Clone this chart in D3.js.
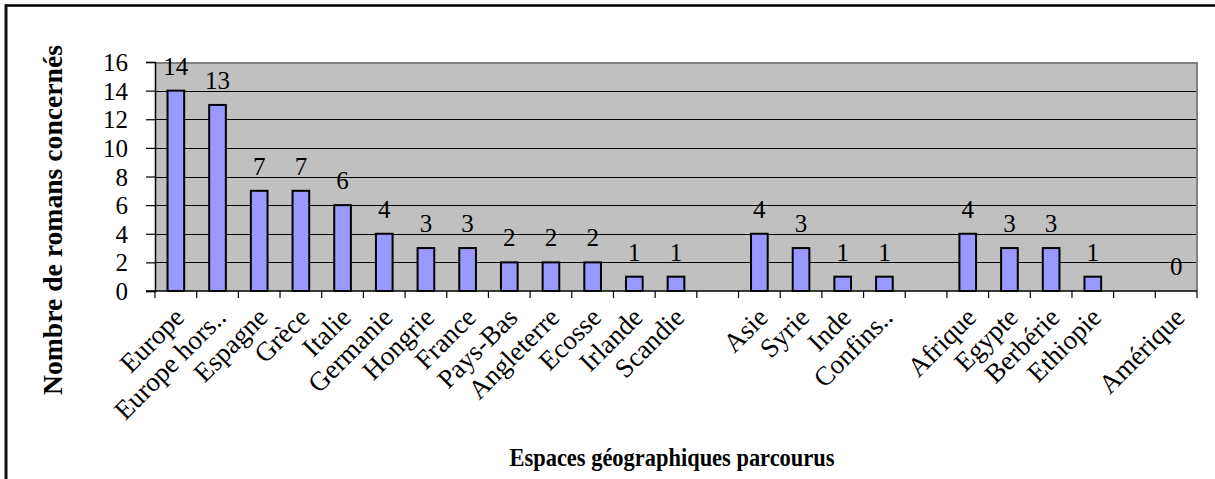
<!DOCTYPE html>
<html>
<head>
<meta charset="utf-8">
<script src="https://cdn.jsdelivr.net/npm/d3@7"></script>
<style>
  html, body { margin: 0; padding: 0; background: #fff; }
  svg { display: block; }
  text { font-family: "Liberation Serif", "Times New Roman", serif; }
</style>
</head>
<body>
<svg id="chart" width="1215" height="479"></svg>
<script>
// Geographic areas (empty strings are spacer slots between continents)
const categories = ["Europe", "Europe hors..", "Espagne", "Grèce", "Italie", "Germanie", "Hongrie",
  "France", "Pays-Bas", "Angleterre", "Ecosse", "Irlande", "Scandie", "",
  "Asie", "Syrie", "Inde", "Confins..", "",
  "Afrique", "Egypte", "Berbérie", "Ethiopie", "",
  "Amérique"];
// Number of novels per area (null = spacer, no bar)
const values = [14, 13, 7, 7, 6, 4, 3, 3, 2, 2, 2, 1, 1, null,
  4, 3, 1, 1, null,
  4, 3, 3, 1, null,
  0];
const yTicks = [0, 2, 4, 6, 8, 10, 12, 14, 16];
const yTitle = "Nombre de romans concernés";
const xTitle = "Espaces géographiques parcourus";

const svg = d3.select("#chart");
const plot = { left: 155, right: 1197, top: 62, bottom: 291 };

const x = d3.scaleBand()
  .domain(d3.range(categories.length))
  .range([plot.left, plot.right])
  .paddingInner(0).paddingOuter(0);
const y = d3.scaleLinear().domain([0, 16]).range([plot.bottom, plot.top]);

// Outer frame
svg.append("line").attr("x1", 5).attr("x2", 1215).attr("y1", 5.5).attr("y2", 5.5)
  .attr("stroke", "#000").attr("stroke-width", 2.5);
svg.append("line").attr("x1", 6).attr("x2", 6).attr("y1", 4.5).attr("y2", 479)
  .attr("stroke", "#111").attr("stroke-width", 3);

// Plot background
svg.append("rect")
  .attr("x", plot.left).attr("y", plot.top)
  .attr("width", plot.right - plot.left).attr("height", plot.bottom - plot.top)
  .attr("fill", "#c0c0c0");

// Horizontal gridlines
svg.append("g").selectAll("line")
  .data(yTicks.filter(t => t > 0 && t < 16))
  .join("line")
  .attr("x1", plot.left).attr("x2", plot.right)
  .attr("y1", d => Math.round(y(d)) + 0.5).attr("y2", d => Math.round(y(d)) + 0.5)
  .attr("stroke", "#000").attr("stroke-width", 1);

// Grey top and right border of the plot area
svg.append("path")
  .attr("d", `M${plot.left},${plot.top + 1}H${plot.right}V${plot.bottom}`)
  .attr("fill", "none").attr("stroke", "#808080").attr("stroke-width", 2);

// Bars
const barW = x.bandwidth() * 0.4;
svg.append("g").selectAll("rect")
  .data(values.map((v, i) => ({ v, i })).filter(d => d.v !== null && d.v > 0))
  .join("rect")
  .attr("x", d => x(d.i) + x.bandwidth() / 2 - barW / 2)
  .attr("y", d => y(d.v))
  .attr("width", barW)
  .attr("height", d => y(0) - y(d.v))
  .attr("fill", "#9999ff")
  .attr("stroke", "#000").attr("stroke-width", 2);

// Value labels
svg.append("g").selectAll("text")
  .data(values.map((v, i) => ({ v, i })).filter(d => d.v !== null))
  .join("text")
  .attr("x", d => x(d.i) + x.bandwidth() / 2)
  .attr("y", d => y(d.v) - 16)
  .attr("text-anchor", "middle")
  .attr("font-size", 25)
  .attr("fill", "#000")
  .text(d => d.v);

// Y axis
const yAxis = d3.axisLeft(y).tickValues(yTicks).tickSize(9).tickPadding(18);
const gy = svg.append("g").attr("transform", `translate(${plot.left},0)`).call(yAxis);
gy.select(".domain").attr("stroke", "#000").attr("stroke-width", 1.5);
gy.selectAll(".tick line").attr("stroke", "#000").attr("stroke-width", 1.2);
gy.selectAll(".tick text")
  .attr("font-size", 25)
  .attr("fill", "#000").attr("dy", "0.34em");

// X axis: ticks between category slots
const boundaries = d3.range(categories.length + 1).map(i => plot.left + i * x.step());
svg.append("line")
  .attr("x1", plot.left - 9).attr("x2", plot.right)
  .attr("y1", plot.bottom).attr("y2", plot.bottom)
  .attr("stroke", "#000").attr("stroke-width", 1.5);
svg.append("g").selectAll("line")
  .data(boundaries)
  .join("line")
  .attr("x1", d => d).attr("x2", d => d)
  .attr("y1", plot.bottom).attr("y2", plot.bottom + 7)
  .attr("stroke", "#000").attr("stroke-width", 1.2);

// Category labels, rotated
svg.append("g").selectAll("text")
  .data(categories.map((c, i) => ({ c, i })).filter(d => d.c !== ""))
  .join("text")
  .attr("transform", d => `translate(${x(d.i) + x.bandwidth() / 2 + 10},${plot.bottom + 28}) rotate(-45)`)
  .attr("text-anchor", "end")
  .attr("font-size", 27)
  .attr("fill", "#000")
  .text(d => d.c);

// Axis titles
svg.append("text")
  .attr("transform", `translate(62,220) rotate(-90)`)
  .attr("text-anchor", "middle")
  .attr("font-size", 27).attr("font-weight", "bold")
  .attr("textLength", 350).attr("lengthAdjust", "spacingAndGlyphs")
  .attr("fill", "#000")
  .text(yTitle);

svg.append("text")
  .attr("x", 672).attr("y", 466)
  .attr("text-anchor", "middle")
  .attr("font-size", 26).attr("font-weight", "bold")
  .attr("textLength", 325).attr("lengthAdjust", "spacingAndGlyphs")
  .attr("fill", "#000")
  .text(xTitle);
</script>
</body>
</html>
